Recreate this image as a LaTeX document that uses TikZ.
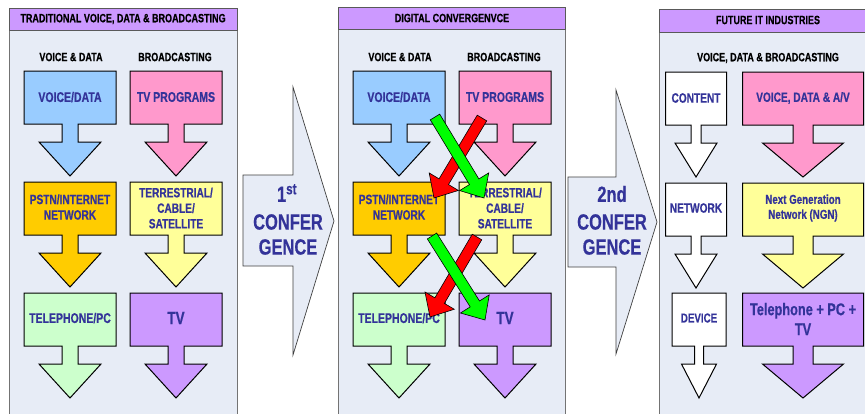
\documentclass[tikz,border=0pt]{standalone}
\usepackage{fontspec}
\newfontfamily\nf{Liberation Sans}[FakeStretch=0.75, BoldFeatures={FakeBold=0.5}]
\definecolor{bluec}{RGB}{153,204,255}
\definecolor{pinkc}{RGB}{255,153,204}
\definecolor{goldc}{RGB}{255,204,0}
\definecolor{yellowc}{RGB}{255,255,153}
\definecolor{greenc}{RGB}{204,255,204}
\definecolor{purplec}{RGB}{204,153,255}
\definecolor{panelbg}{RGB}{231,236,246}
\definecolor{txtblue}{RGB}{51,51,153}
\definecolor{xred}{RGB}{255,0,0}
\definecolor{xgreen}{RGB}{0,255,0}
\tikzset{
  panel/.style={fill=panelbg, draw=black!55, line width=0.9pt},
  hdr/.style={fill=purplec, draw=black!65, line width=0.9pt},
  blk/.style={draw=black, line width=1pt},
  bigarr/.style={fill=panelbg, draw=black!75, line width=0.7pt},
  hdrtxt/.style={font=\nf\bfseries\fontsize{12}{14}\selectfont, text=black, inner sep=0pt},
  collbl/.style={font=\nf\bfseries\fontsize{12}{14}\selectfont, text=black, inner sep=0pt},
  lbl/.style={font=\nf\bfseries\fontsize{14}{16}\selectfont, text=txtblue, align=center, inner sep=0pt},
  lblm/.style={font=\nf\bfseries\fontsize{13.5}{15.5}\selectfont, text=txtblue, align=center, inner sep=0pt},
  lblbig/.style={font=\nf\bfseries\fontsize{18}{20}\selectfont, text=txtblue, align=center, inner sep=0pt},
  bigtxt/.style={font=\nf\bfseries\fontsize{22}{25}\selectfont, text=txtblue, inner sep=0pt},
  xarr/.style={draw=black, line width=0.6pt}
}
% down block arrow: xc, ytop, box half, shaft half, head half, fill
\newcommand\dnarrow[6]{%
  \filldraw[blk,fill=#6] ({#1-#3},{#2}) -- ({#1+#3},{#2}) -- ({#1+#3},{#2+53}) -- ({#1+#4},{#2+53})
   -- ({#1+#4},{#2+71}) -- ({#1+#5},{#2+71}) -- ({#1},{#2+105}) -- ({#1-#5},{#2+71})
   -- ({#1-#4},{#2+71}) -- ({#1-#4},{#2+53}) -- ({#1-#3},{#2+53}) -- cycle;}
% diagonal block arrow: fill, tail x, tail y, tip x, tip y
\newcommand\diagarrow[5]{%
  \pgfmathsetmacro\dAx{#4-#2}\pgfmathsetmacro\dAy{#5-#3}%
  \pgfmathsetmacro\dAl{sqrt(\dAx*\dAx+\dAy*\dAy)}%
  \pgfmathsetmacro\dUx{\dAx/\dAl}\pgfmathsetmacro\dUy{\dAy/\dAl}%
  \pgfmathsetmacro\dBx{#4-19*\dUx}\pgfmathsetmacro\dBy{#5-19*\dUy}%
  \filldraw[xarr,fill=#1] ({#2-5.5*\dUy},{#3+5.5*\dUx}) -- ({\dBx-5.5*\dUy},{\dBy+5.5*\dUx})
    -- ({\dBx-17*\dUy},{\dBy+17*\dUx}) -- ({#4},{#5}) -- ({\dBx+17*\dUy},{\dBy-17*\dUx})
    -- ({\dBx+5.5*\dUy},{\dBy-5.5*\dUx}) -- ({#2+5.5*\dUy},{#3-5.5*\dUx}) -- cycle;}
\begin{document}
\begin{tikzpicture}[x=1pt,y=-1pt]
\useasboundingbox (0,0) rectangle (865,413);
\fill[white] (0,0) rectangle (865,413);
\begin{scope}
\clip (0,0) rectangle (865,413);
% panels
\filldraw[panel] (9,8) rectangle (237,430);
\filldraw[hdr] (9,8) rectangle (237,30);
\filldraw[panel] (338,7) rectangle (565,430);
\filldraw[hdr] (338,7) rectangle (565,29);
\filldraw[panel] (659,9) rectangle (880,430);
\filldraw[hdr] (659,9) rectangle (880,32);
\end{scope}
\node[hdrtxt] (h1) at (123,19) {TRADITIONAL VOICE, DATA \& BROADCASTING};
\node[hdrtxt] (h2) at (452,18) {DIGITAL CONVERGENVCE};
\node[hdrtxt] (h3) at (768,20) {FUTURE IT INDUSTRIES};
% big arrows
\filldraw[bigarr] (243,175) -- (293,175) -- (293,87) -- (334,221) -- (293,355) -- (293,266) -- (243,266) -- cycle;
\filldraw[bigarr] (568,177) -- (616,177) -- (616,90) -- (657,222) -- (616,354) -- (616,267) -- (568,267) -- cycle;
\node[bigtxt] (c1a) at (287,193) {1\textsuperscript{st}};
\node[bigtxt] (c1b) at (288,222) {CONFER};
\node[bigtxt] (c1c) at (288,247) {GENCE};
\node[bigtxt] (c2a) at (612,194) {2nd};
\node[bigtxt] (c2b) at (612,222) {CONFER};
\node[bigtxt] (c2c) at (612,247) {GENCE};
% panel 1
\node[collbl] (p1l) at (71,57) {VOICE \& DATA};
\node[collbl] (p1r) at (175,57) {BROADCASTING};
\dnarrow{70}{71}{46}{8}{31}{bluec}
\dnarrow{176}{71}{46}{8}{31}{pinkc}
\dnarrow{70}{182}{46}{8}{31}{goldc}
\dnarrow{176}{182}{46}{8}{31}{yellowc}
\dnarrow{70}{293}{46}{8}{31}{greenc}
\dnarrow{176}{293}{46}{8}{31}{purplec}
\node[lbl] (a1) at (70,97) {VOICE/DATA};
\node[lbl] (a2) at (176,97) {TV PROGRAMS};
\node[lblm] (a3) at (70,207) {PSTN/INTERNET\\NETWORK};
\node[lblm] (a4) at (176,208) {TERRESTRIAL/\\CABLE/\\SATELLITE};
\node[lbl] (a5) at (70,318) {TELEPHONE/PC};
\node[lblbig] (a6) at (176,318) {TV};
% panel 2
\node[collbl] (p2l) at (400,57) {VOICE \& DATA};
\node[collbl] (p2r) at (504,57) {BROADCASTING};
\dnarrow{399}{71}{46}{8}{31}{bluec}
\dnarrow{505}{71}{46}{8}{31}{pinkc}
\dnarrow{399}{182}{46}{8}{31}{goldc}
\dnarrow{505}{182}{46}{8}{31}{yellowc}
\dnarrow{399}{293}{46}{8}{31}{greenc}
\dnarrow{505}{293}{46}{8}{31}{purplec}
\node[lbl] (b1) at (399,97) {VOICE/DATA};
\node[lbl] (b2) at (505,97) {TV PROGRAMS};
\node[lblm] (b3) at (399,207) {PSTN/INTERNET\\NETWORK};
\node[lblm] (b4) at (505,208) {TERRESTRIAL/\\CABLE/\\SATELLITE};
\node[lbl] (b5) at (399,318) {TELEPHONE/PC};
\node[lblbig] (b6) at (505,318) {TV};
\diagarrow{xred}{482}{118}{434}{198}
\diagarrow{xgreen}{435}{117}{484}{198}
\diagarrow{xred}{477}{237}{430}{317}
\diagarrow{xgreen}{432}{236}{485}{320}
% panel 3
\node[collbl] (p3l) at (768,58) {VOICE, DATA \& BROADCASTING};
\dnarrow{696}{72}{30.5}{5}{21}{white}
\dnarrow{803}{72}{60.5}{10}{40.5}{pinkc}
\dnarrow{696}{183}{30.5}{5}{21}{white}
\dnarrow{803}{183}{60.5}{10}{40.5}{yellowc}
\dnarrow{699}{293}{27}{4.5}{17.5}{white}
\dnarrow{803}{293}{60.5}{10}{40.5}{purplec}
\node[lblm] (d1) at (696,98) {CONTENT};
\node[lblm] (d2) at (803,98) {VOICE, DATA \& A/V};
\node[lblm] (d3) at (696,208) {NETWORK};
\node[lblm, font=\nf\bfseries\fontsize{13}{15}\selectfont] (d4) at (803,208) {Next Generation\\Network (NGN)};
\node[lblm, font=\nf\bfseries\fontsize{13}{15}\selectfont] (d5) at (699,318) {DEVICE};
\node[lblbig, font=\nf\bfseries\fontsize{17}{20}\selectfont] (d6) at (803,319) {Telephone + PC +\\TV};
\end{tikzpicture}
\end{document}
